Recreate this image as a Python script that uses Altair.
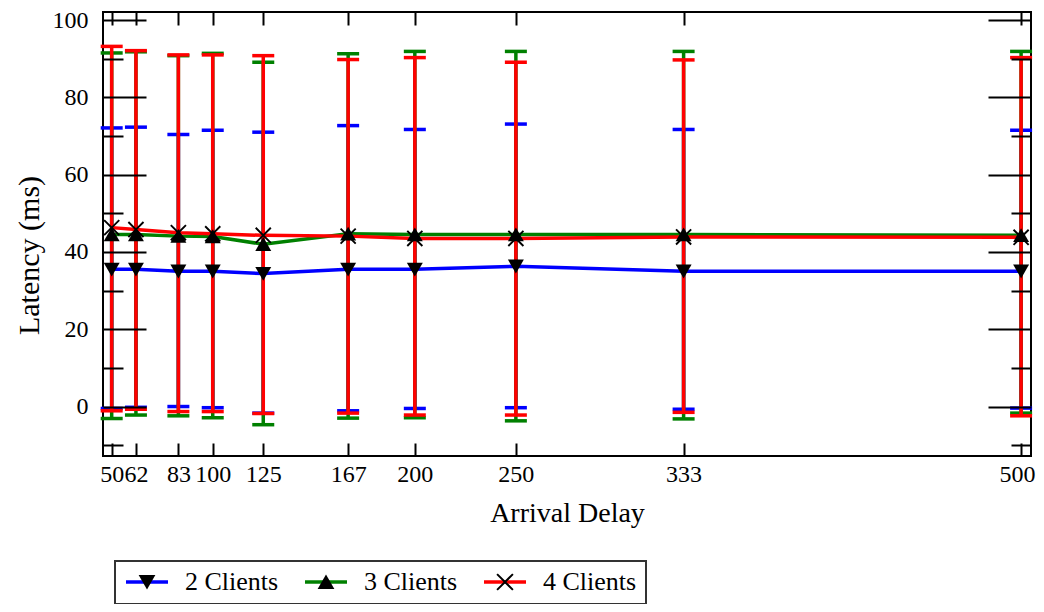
import altair as alt
import pandas as pd

# ---------------- data ----------------
delays = [50, 62, 83, 100, 125, 167, 200, 250, 333, 500]
series_names = ["2 Clients", "3 Clients", "4 Clients"]
series_colors = ["#0000ff", "#008000", "#ff0000"]

mean_2 = [35.5, 35.5, 35.0, 35.0, 34.4, 35.5, 35.5, 36.3, 35.0, 35.0]
low_2 = [-0.5, -0.2, 0.0, -0.3, -1.7, -1.1, -0.5, -0.3, -0.7, -0.4]
high_2 = [72.1, 72.3, 70.4, 71.5, 71.0, 72.7, 71.7, 73.1, 71.7, 71.5]

mean_3 = [44.5, 44.5, 44.1, 44.0, 42.0, 44.7, 44.5, 44.5, 44.5, 44.3]
low_3 = [-3.1, -2.2, -2.4, -2.9, -4.7, -3.0, -2.9, -3.7, -3.2, -1.7]
high_3 = [91.5, 91.8, 90.8, 91.4, 89.1, 91.3, 91.9, 91.9, 91.9, 91.9]

mean_4 = [46.3, 45.8, 45.0, 44.7, 44.3, 44.1, 43.5, 43.5, 43.9, 43.8]
low_4 = [-1.1, -0.7, -1.3, -1.3, -1.8, -1.7, -2.2, -2.2, -1.5, -2.4]
high_4 = [93.2, 92.1, 91.0, 91.0, 90.8, 89.8, 90.3, 89.1, 89.7, 90.3]

y_major = [0, 20, 40, 60, 80, 100]
y_minor = [-10, 10, 30, 50, 70, 90]

rows = []
for name, ms, lo, hi in zip(series_names, [mean_2, mean_3, mean_4],
                            [low_2, low_3, low_4], [high_2, high_3, high_4]):
    for d, m, l, h in zip(delays, ms, lo, hi):
        rows.append({"delay": d, "series": name, "marker": name,
                     "mean": m, "low": l, "high": h})
df = pd.DataFrame(rows)

# ---------------- styling ----------------
W, H = 928, 444
FONT = "Liberation Serif"
xs = alt.Scale(domain=[45.7, 504.9], nice=False, zero=False)
ys = alt.Scale(domain=[-12.8, 102.1], nice=False, zero=False)
cs = alt.Scale(domain=series_names, range=series_colors)
shape_paths = [
    "M-0.38,-0.32L0.38,-0.32L0,0.34Z",
    "M-0.38,0.32L0.38,0.32L0,-0.34Z",
    # filled "X" (two thin diagonal bars)
    "M-0.328,-0.392L0.392,0.328L0.328,0.392L-0.392,-0.328Z"
    "M0.328,-0.392L0.392,-0.328L-0.328,0.392L-0.392,0.328Z",
]
# data-driven (sorted) domain, so that this legend is not merged with the colour one
ss = alt.Scale(range=shape_paths)


def tick_axis(orient, values, size, offset):
    return alt.Axis(orient=orient, values=values, tickSize=size, tickWidth=2,
                    tickColor="black", labels=False, domain=False, grid=False,
                    title=None, offset=offset, zindex=1)


x_label_axis = alt.Axis(orient="bottom", values=delays, format="d", ticks=False,
                        domain=False, grid=False, title="Arrival Delay",
                        labelFont=FONT, labelFontSize=24, labelColor="black",
                        labelPadding=6, labelOverlap=False, labelFlush=False,
                        labelBound=False,
                        labelOffset={"condition": {"test": "datum.value == 500", "value": -4},
                                     "value": 0},
                        titleFont=FONT, titleFontSize=28,
                        titleFontWeight="normal", titleColor="black",
                        titlePadding=13)
y_label_axis = alt.Axis(orient="left", values=y_major, format="d", ticks=False,
                        domain=False, grid=False, title="Latency (ms)",
                        labelFont=FONT, labelFontSize=24, labelColor="black",
                        labelPadding=15, labelFlush=False, labelBound=False,
                        titleFont=FONT, titleFontSize=30, titleY=243,
                        titleFontWeight="normal", titleColor="black",
                        titlePadding=8)

axis_plan = {
    (0, "rule"): (x_label_axis, y_label_axis),
    (0, "low"): (tick_axis("top", delays, 13, -H), tick_axis("right", y_major, 43, -W)),
    (0, "high"): (tick_axis("bottom", delays, 13, -H), tick_axis("right", y_minor, 20, -W)),
    (1, "rule"): (None, tick_axis("left", y_major, 43, -W)),
    (1, "low"): (None, tick_axis("left", y_minor, 20, -W)),
}

layers = []
for i, (name, col) in enumerate(zip(series_names, series_colors)):
    base = alt.Chart(df).transform_filter(alt.datum.series == name)
    for part in ["rule", "low", "high"]:
        xa, ya = axis_plan.get((i, part), (None, None))
        if part == "rule":
            mk = base.mark_rule(strokeWidth=3.5, color=col)
            enc = dict(y=alt.Y("low:Q", scale=ys, axis=ya), y2="high:Q")
        else:
            mk = base.mark_tick(orient="horizontal", size=22, thickness=3.5,
                                opacity=1, color=col)
            enc = dict(y=alt.Y(f"{part}:Q", scale=ys, axis=ya))
        layers.append(mk.encode(x=alt.X("delay:Q", scale=xs, axis=xa), **enc))

legend_common = dict(orient="none", legendX=12, legendY=549, direction="horizontal",
                     title=None, labelFont=FONT, labelFontSize=26, labelOffset=15,
                     columnPadding=24, padding=9, clipHeight=24)

lines = alt.Chart(df).mark_line(strokeWidth=3.5).encode(
    x=alt.X("delay:Q", scale=xs, axis=None),
    y=alt.Y("mean:Q", scale=ys, axis=None),
    color=alt.Color("series:N", scale=cs, legend=alt.Legend(
        symbolType="stroke", symbolSize=1764, symbolStrokeWidth=3.5,
        labelColor="black", strokeColor="#333333", **legend_common)),
)

points = alt.Chart(df).mark_point(filled=True, size=1764, color="black",
                                  opacity=1).encode(
    x=alt.X("delay:Q", scale=xs, axis=None),
    y=alt.Y("mean:Q", scale=ys, axis=None),
    shape=alt.Shape("marker:N", scale=ss, legend=alt.Legend(
        symbolSize=1936, symbolStrokeWidth=1.2, symbolFillColor="black",
        symbolOpacity=1, labelOpacity=0, **legend_common)),
)

chart = alt.layer(*layers, lines, points).resolve_axis(
    x="independent", y="independent"
).properties(
    width=W, height=H,
    autosize=alt.AutoSizeParams(type="none"),
    padding={"left": 95, "top": 4, "right": 5, "bottom": 148},
).configure_view(
    stroke="black", strokeWidth=2
).configure_legend(
    strokeWidth=2
)

chart.save("out.html", embed_options={"renderer": "svg", "actions": False})
